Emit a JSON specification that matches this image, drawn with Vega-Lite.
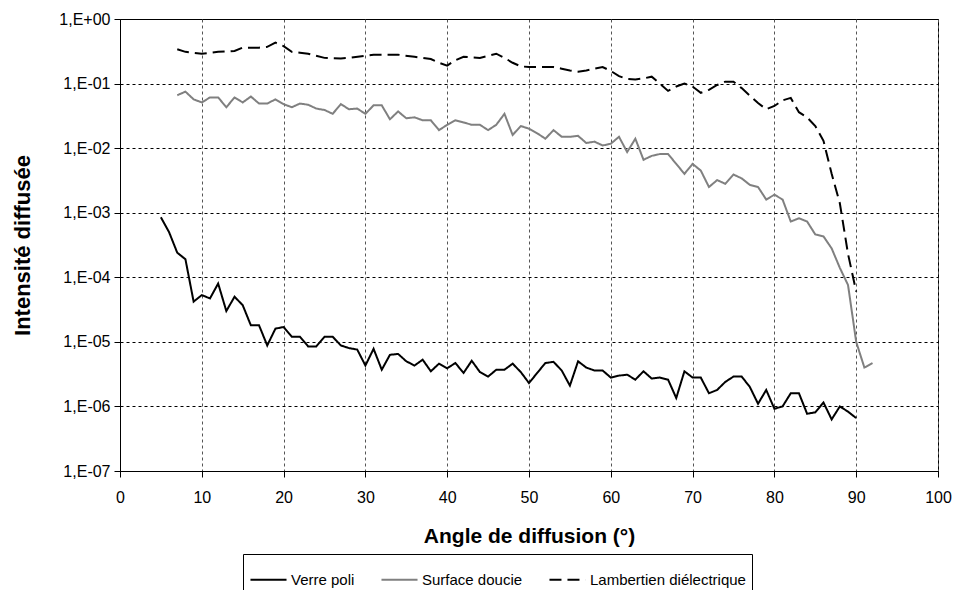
{
  "$schema": "https://vega.github.io/schema/vega-lite/v6.json",
  "width": 818,
  "height": 452,
  "autosize": {"type": "none"},
  "padding": {"left": 120, "top": 19, "right": 17, "bottom": 119},
  "background": "white",
  "config": {
    "font": "Liberation Sans",
    "view": {"stroke": "black", "strokeWidth": 1},
    "axis": {
      "labelFont": "Liberation Sans",
      "titleFont": "Liberation Sans",
      "labelFontSize": 16,
      "labelColor": "black",
      "titleFontSize": 21,
      "titleFontWeight": "bold",
      "titleColor": "black",
      "domainColor": "black",
      "tickColor": "black",
      "tickSize": 6,
      "gridDash": [3, 3],
      "gridOpacity": 1
    }
  },
  "data": {
    "values": [
      {"s": "Verre poli", "a": 5, "v": 8.5e-4},
      {"s": "Verre poli", "a": 6, "v": 5e-4},
      {"s": "Verre poli", "a": 7, "v": 2.4e-4},
      {"s": "Verre poli", "a": 8, "v": 1.9e-4},
      {"s": "Verre poli", "a": 9, "v": 4.2e-5},
      {"s": "Verre poli", "a": 10, "v": 5.3e-5},
      {"s": "Verre poli", "a": 11, "v": 4.7e-5},
      {"s": "Verre poli", "a": 12, "v": 8e-5},
      {"s": "Verre poli", "a": 13, "v": 3e-5},
      {"s": "Verre poli", "a": 14, "v": 5e-5},
      {"s": "Verre poli", "a": 15, "v": 3.7e-5},
      {"s": "Verre poli", "a": 16, "v": 1.8e-5},
      {"s": "Verre poli", "a": 17, "v": 1.8e-5},
      {"s": "Verre poli", "a": 18, "v": 8.8e-6},
      {"s": "Verre poli", "a": 19, "v": 1.6e-5},
      {"s": "Verre poli", "a": 20, "v": 1.7e-5},
      {"s": "Verre poli", "a": 21, "v": 1.2e-5},
      {"s": "Verre poli", "a": 22, "v": 1.2e-5},
      {"s": "Verre poli", "a": 23, "v": 8.5e-6},
      {"s": "Verre poli", "a": 24, "v": 8.5e-6},
      {"s": "Verre poli", "a": 25, "v": 1.2e-5},
      {"s": "Verre poli", "a": 26, "v": 1.2e-5},
      {"s": "Verre poli", "a": 27, "v": 8.8e-6},
      {"s": "Verre poli", "a": 28, "v": 8e-6},
      {"s": "Verre poli", "a": 29, "v": 7.6e-6},
      {"s": "Verre poli", "a": 30, "v": 4.3e-6},
      {"s": "Verre poli", "a": 31, "v": 7.8e-6},
      {"s": "Verre poli", "a": 32, "v": 3.7e-6},
      {"s": "Verre poli", "a": 33, "v": 6.3e-6},
      {"s": "Verre poli", "a": 34, "v": 6.5e-6},
      {"s": "Verre poli", "a": 35, "v": 5e-6},
      {"s": "Verre poli", "a": 36, "v": 4.3e-6},
      {"s": "Verre poli", "a": 37, "v": 5.3e-6},
      {"s": "Verre poli", "a": 38, "v": 3.5e-6},
      {"s": "Verre poli", "a": 39, "v": 4.6e-6},
      {"s": "Verre poli", "a": 40, "v": 3.9e-6},
      {"s": "Verre poli", "a": 41, "v": 4.7e-6},
      {"s": "Verre poli", "a": 42, "v": 3.3e-6},
      {"s": "Verre poli", "a": 43, "v": 5.1e-6},
      {"s": "Verre poli", "a": 44, "v": 3.4e-6},
      {"s": "Verre poli", "a": 45, "v": 2.9e-6},
      {"s": "Verre poli", "a": 46, "v": 3.7e-6},
      {"s": "Verre poli", "a": 47, "v": 3.7e-6},
      {"s": "Verre poli", "a": 48, "v": 4.6e-6},
      {"s": "Verre poli", "a": 49, "v": 3.4e-6},
      {"s": "Verre poli", "a": 50, "v": 2.3e-6},
      {"s": "Verre poli", "a": 51, "v": 3.3e-6},
      {"s": "Verre poli", "a": 52, "v": 4.7e-6},
      {"s": "Verre poli", "a": 53, "v": 4.9e-6},
      {"s": "Verre poli", "a": 54, "v": 3.6e-6},
      {"s": "Verre poli", "a": 55, "v": 2.1e-6},
      {"s": "Verre poli", "a": 56, "v": 5e-6},
      {"s": "Verre poli", "a": 57, "v": 4e-6},
      {"s": "Verre poli", "a": 58, "v": 3.6e-6},
      {"s": "Verre poli", "a": 59, "v": 3.6e-6},
      {"s": "Verre poli", "a": 60, "v": 2.8e-6},
      {"s": "Verre poli", "a": 61, "v": 3e-6},
      {"s": "Verre poli", "a": 62, "v": 3.1e-6},
      {"s": "Verre poli", "a": 63, "v": 2.6e-6},
      {"s": "Verre poli", "a": 64, "v": 3.5e-6},
      {"s": "Verre poli", "a": 65, "v": 2.7e-6},
      {"s": "Verre poli", "a": 66, "v": 2.8e-6},
      {"s": "Verre poli", "a": 67, "v": 2.6e-6},
      {"s": "Verre poli", "a": 68, "v": 1.35e-6},
      {"s": "Verre poli", "a": 69, "v": 3.5e-6},
      {"s": "Verre poli", "a": 70, "v": 2.8e-6},
      {"s": "Verre poli", "a": 71, "v": 2.8e-6},
      {"s": "Verre poli", "a": 72, "v": 1.6e-6},
      {"s": "Verre poli", "a": 73, "v": 1.8e-6},
      {"s": "Verre poli", "a": 74, "v": 2.4e-6},
      {"s": "Verre poli", "a": 75, "v": 2.9e-6},
      {"s": "Verre poli", "a": 76, "v": 2.9e-6},
      {"s": "Verre poli", "a": 77, "v": 2e-6},
      {"s": "Verre poli", "a": 78, "v": 1.1e-6},
      {"s": "Verre poli", "a": 79, "v": 1.8e-6},
      {"s": "Verre poli", "a": 80, "v": 9.2e-7},
      {"s": "Verre poli", "a": 81, "v": 1e-6},
      {"s": "Verre poli", "a": 82, "v": 1.6e-6},
      {"s": "Verre poli", "a": 83, "v": 1.6e-6},
      {"s": "Verre poli", "a": 84, "v": 7.7e-7},
      {"s": "Verre poli", "a": 85, "v": 8.1e-7},
      {"s": "Verre poli", "a": 86, "v": 1.15e-6},
      {"s": "Verre poli", "a": 87, "v": 6.3e-7},
      {"s": "Verre poli", "a": 88, "v": 1e-6},
      {"s": "Verre poli", "a": 89, "v": 8.3e-7},
      {"s": "Verre poli", "a": 90, "v": 6.6e-7},

      {"s": "Surface doucie", "a": 7, "v": 0.066},
      {"s": "Surface doucie", "a": 8, "v": 0.075},
      {"s": "Surface doucie", "a": 9, "v": 0.057},
      {"s": "Surface doucie", "a": 10, "v": 0.051},
      {"s": "Surface doucie", "a": 11, "v": 0.061},
      {"s": "Surface doucie", "a": 12, "v": 0.061},
      {"s": "Surface doucie", "a": 13, "v": 0.043},
      {"s": "Surface doucie", "a": 14, "v": 0.061},
      {"s": "Surface doucie", "a": 15, "v": 0.051},
      {"s": "Surface doucie", "a": 16, "v": 0.063},
      {"s": "Surface doucie", "a": 17, "v": 0.049},
      {"s": "Surface doucie", "a": 18, "v": 0.049},
      {"s": "Surface doucie", "a": 19, "v": 0.057},
      {"s": "Surface doucie", "a": 20, "v": 0.048},
      {"s": "Surface doucie", "a": 21, "v": 0.043},
      {"s": "Surface doucie", "a": 22, "v": 0.049},
      {"s": "Surface doucie", "a": 23, "v": 0.047},
      {"s": "Surface doucie", "a": 24, "v": 0.041},
      {"s": "Surface doucie", "a": 25, "v": 0.039},
      {"s": "Surface doucie", "a": 26, "v": 0.034},
      {"s": "Surface doucie", "a": 27, "v": 0.048},
      {"s": "Surface doucie", "a": 28, "v": 0.040},
      {"s": "Surface doucie", "a": 29, "v": 0.041},
      {"s": "Surface doucie", "a": 30, "v": 0.034},
      {"s": "Surface doucie", "a": 31, "v": 0.046},
      {"s": "Surface doucie", "a": 32, "v": 0.046},
      {"s": "Surface doucie", "a": 33, "v": 0.028},
      {"s": "Surface doucie", "a": 34, "v": 0.037},
      {"s": "Surface doucie", "a": 35, "v": 0.029},
      {"s": "Surface doucie", "a": 36, "v": 0.030},
      {"s": "Surface doucie", "a": 37, "v": 0.027},
      {"s": "Surface doucie", "a": 38, "v": 0.027},
      {"s": "Surface doucie", "a": 39, "v": 0.019},
      {"s": "Surface doucie", "a": 40, "v": 0.023},
      {"s": "Surface doucie", "a": 41, "v": 0.027},
      {"s": "Surface doucie", "a": 42, "v": 0.025},
      {"s": "Surface doucie", "a": 43, "v": 0.023},
      {"s": "Surface doucie", "a": 44, "v": 0.023},
      {"s": "Surface doucie", "a": 45, "v": 0.019},
      {"s": "Surface doucie", "a": 46, "v": 0.023},
      {"s": "Surface doucie", "a": 47, "v": 0.034},
      {"s": "Surface doucie", "a": 48, "v": 0.016},
      {"s": "Surface doucie", "a": 49, "v": 0.022},
      {"s": "Surface doucie", "a": 50, "v": 0.020},
      {"s": "Surface doucie", "a": 51, "v": 0.017},
      {"s": "Surface doucie", "a": 52, "v": 0.014},
      {"s": "Surface doucie", "a": 53, "v": 0.019},
      {"s": "Surface doucie", "a": 54, "v": 0.015},
      {"s": "Surface doucie", "a": 55, "v": 0.015},
      {"s": "Surface doucie", "a": 56, "v": 0.0155},
      {"s": "Surface doucie", "a": 57, "v": 0.012},
      {"s": "Surface doucie", "a": 58, "v": 0.0126},
      {"s": "Surface doucie", "a": 59, "v": 0.011},
      {"s": "Surface doucie", "a": 60, "v": 0.0117},
      {"s": "Surface doucie", "a": 61, "v": 0.015},
      {"s": "Surface doucie", "a": 62, "v": 0.0087},
      {"s": "Surface doucie", "a": 63, "v": 0.014},
      {"s": "Surface doucie", "a": 64, "v": 0.0066},
      {"s": "Surface doucie", "a": 65, "v": 0.0076},
      {"s": "Surface doucie", "a": 66, "v": 0.0081},
      {"s": "Surface doucie", "a": 67, "v": 0.0081},
      {"s": "Surface doucie", "a": 68, "v": 0.0057},
      {"s": "Surface doucie", "a": 69, "v": 0.0040},
      {"s": "Surface doucie", "a": 70, "v": 0.0057},
      {"s": "Surface doucie", "a": 71, "v": 0.0045},
      {"s": "Surface doucie", "a": 72, "v": 0.0025},
      {"s": "Surface doucie", "a": 73, "v": 0.0032},
      {"s": "Surface doucie", "a": 74, "v": 0.0028},
      {"s": "Surface doucie", "a": 75, "v": 0.0039},
      {"s": "Surface doucie", "a": 76, "v": 0.0034},
      {"s": "Surface doucie", "a": 77, "v": 0.0027},
      {"s": "Surface doucie", "a": 78, "v": 0.0025},
      {"s": "Surface doucie", "a": 79, "v": 0.0016},
      {"s": "Surface doucie", "a": 80, "v": 0.0019},
      {"s": "Surface doucie", "a": 81, "v": 0.0016},
      {"s": "Surface doucie", "a": 82, "v": 7.3e-4},
      {"s": "Surface doucie", "a": 83, "v": 8.2e-4},
      {"s": "Surface doucie", "a": 84, "v": 7.3e-4},
      {"s": "Surface doucie", "a": 85, "v": 4.6e-4},
      {"s": "Surface doucie", "a": 86, "v": 4.3e-4},
      {"s": "Surface doucie", "a": 87, "v": 2.8e-4},
      {"s": "Surface doucie", "a": 88, "v": 1.4e-4},
      {"s": "Surface doucie", "a": 89, "v": 7.6e-5},
      {"s": "Surface doucie", "a": 90, "v": 1.0e-5},
      {"s": "Surface doucie", "a": 91, "v": 4e-6},
      {"s": "Surface doucie", "a": 92, "v": 4.7e-6},

      {"s": "Lambertien diélectrique", "a": 7, "v": 0.34},
      {"s": "Lambertien diélectrique", "a": 8, "v": 0.31},
      {"s": "Lambertien diélectrique", "a": 10, "v": 0.29},
      {"s": "Lambertien diélectrique", "a": 12, "v": 0.31},
      {"s": "Lambertien diélectrique", "a": 14, "v": 0.32},
      {"s": "Lambertien diélectrique", "a": 15, "v": 0.36},
      {"s": "Lambertien diélectrique", "a": 17, "v": 0.36},
      {"s": "Lambertien diélectrique", "a": 18, "v": 0.37},
      {"s": "Lambertien diélectrique", "a": 19, "v": 0.43},
      {"s": "Lambertien diélectrique", "a": 20, "v": 0.38},
      {"s": "Lambertien diélectrique", "a": 21, "v": 0.31},
      {"s": "Lambertien diélectrique", "a": 22, "v": 0.30},
      {"s": "Lambertien diélectrique", "a": 23, "v": 0.29},
      {"s": "Lambertien diélectrique", "a": 25, "v": 0.25},
      {"s": "Lambertien diélectrique", "a": 27, "v": 0.245},
      {"s": "Lambertien diélectrique", "a": 28, "v": 0.25},
      {"s": "Lambertien diélectrique", "a": 30, "v": 0.27},
      {"s": "Lambertien diélectrique", "a": 31, "v": 0.28},
      {"s": "Lambertien diélectrique", "a": 34, "v": 0.28},
      {"s": "Lambertien diélectrique", "a": 36, "v": 0.26},
      {"s": "Lambertien diélectrique", "a": 37, "v": 0.25},
      {"s": "Lambertien diélectrique", "a": 38, "v": 0.24},
      {"s": "Lambertien diélectrique", "a": 39, "v": 0.21},
      {"s": "Lambertien diélectrique", "a": 40, "v": 0.19},
      {"s": "Lambertien diélectrique", "a": 41, "v": 0.23},
      {"s": "Lambertien diélectrique", "a": 42, "v": 0.26},
      {"s": "Lambertien diélectrique", "a": 44, "v": 0.25},
      {"s": "Lambertien diélectrique", "a": 46, "v": 0.29},
      {"s": "Lambertien diélectrique", "a": 47, "v": 0.25},
      {"s": "Lambertien diélectrique", "a": 48, "v": 0.21},
      {"s": "Lambertien diélectrique", "a": 49, "v": 0.185},
      {"s": "Lambertien diélectrique", "a": 50, "v": 0.18},
      {"s": "Lambertien diélectrique", "a": 53, "v": 0.18},
      {"s": "Lambertien diélectrique", "a": 54, "v": 0.17},
      {"s": "Lambertien diélectrique", "a": 55, "v": 0.16},
      {"s": "Lambertien diélectrique", "a": 56, "v": 0.153},
      {"s": "Lambertien diélectrique", "a": 57, "v": 0.16},
      {"s": "Lambertien diélectrique", "a": 58, "v": 0.17},
      {"s": "Lambertien diélectrique", "a": 59, "v": 0.18},
      {"s": "Lambertien diélectrique", "a": 60, "v": 0.157},
      {"s": "Lambertien diélectrique", "a": 61, "v": 0.13},
      {"s": "Lambertien diélectrique", "a": 62, "v": 0.118},
      {"s": "Lambertien diélectrique", "a": 63, "v": 0.116},
      {"s": "Lambertien diélectrique", "a": 64, "v": 0.12},
      {"s": "Lambertien diélectrique", "a": 65, "v": 0.128},
      {"s": "Lambertien diélectrique", "a": 66, "v": 0.1},
      {"s": "Lambertien diélectrique", "a": 67, "v": 0.077},
      {"s": "Lambertien diélectrique", "a": 68, "v": 0.09},
      {"s": "Lambertien diélectrique", "a": 69, "v": 0.1},
      {"s": "Lambertien diélectrique", "a": 70, "v": 0.09},
      {"s": "Lambertien diélectrique", "a": 71, "v": 0.072},
      {"s": "Lambertien diélectrique", "a": 72, "v": 0.08},
      {"s": "Lambertien diélectrique", "a": 73, "v": 0.095},
      {"s": "Lambertien diélectrique", "a": 74, "v": 0.107},
      {"s": "Lambertien diélectrique", "a": 75, "v": 0.107},
      {"s": "Lambertien diélectrique", "a": 76, "v": 0.085},
      {"s": "Lambertien diélectrique", "a": 77, "v": 0.065},
      {"s": "Lambertien diélectrique", "a": 78, "v": 0.05},
      {"s": "Lambertien diélectrique", "a": 79, "v": 0.04},
      {"s": "Lambertien diélectrique", "a": 80, "v": 0.045},
      {"s": "Lambertien diélectrique", "a": 81, "v": 0.055},
      {"s": "Lambertien diélectrique", "a": 82, "v": 0.06},
      {"s": "Lambertien diélectrique", "a": 83, "v": 0.036},
      {"s": "Lambertien diélectrique", "a": 84, "v": 0.03},
      {"s": "Lambertien diélectrique", "a": 85, "v": 0.022},
      {"s": "Lambertien diélectrique", "a": 86, "v": 0.013},
      {"s": "Lambertien diélectrique", "a": 87, "v": 0.004},
      {"s": "Lambertien diélectrique", "a": 88, "v": 0.0014},
      {"s": "Lambertien diélectrique", "a": 89, "v": 0.00023},
      {"s": "Lambertien diélectrique", "a": 90, "v": 0.00006}
    ]
  },
  "mark": {"type": "line", "strokeWidth": 2, "clip": false},
  "encoding": {
    "x": {
      "field": "a",
      "type": "quantitative",
      "title": "Angle de diffusion (°)",
      "scale": {"domain": [0, 100], "nice": false},
      "axis": {
        "values": [0, 10, 20, 30, 40, 50, 60, 70, 80, 90, 100],
        "grid": true,
        "gridColor": "#555555",
        "labelPadding": 12,
        "titlePadding": 20,
        "labelFlush": false
      }
    },
    "y": {
      "field": "v",
      "type": "quantitative",
      "title": "Intensité diffusée",
      "scale": {"type": "log", "domain": [1e-7, 1], "nice": false},
      "axis": {
        "values": [1e-7, 1e-6, 1e-5, 1e-4, 1e-3, 1e-2, 1e-1, 1],
        "grid": true,
        "gridColor": "black",
        "labelPadding": 4,
        "titlePadding": 24,
        "titleFontSize": 22,
        "labelFlush": false,
        "labelExpr": "'1,E' + (datum.value >= 1 ? '+' : '-') + '0' + abs(round(log(datum.value) / LN10))"
      }
    },
    "color": {
      "field": "s",
      "type": "nominal",
      "title": null,
      "sort": ["Verre poli", "Surface doucie", "Lambertien diélectrique"],
      "scale": {
        "domain": ["Verre poli", "Surface doucie", "Lambertien diélectrique"],
        "range": ["#000000", "#808080", "#000000"]
      },
      "legend": {
        "orient": "none",
        "legendX": 123,
        "legendY": 535,
        "direction": "horizontal",
        "symbolType": "stroke",
        "symbolSize": 1300,
        "symbolStrokeWidth": 2,
        "labelFont": "Liberation Sans",
        "labelFontSize": 15,
        "labelColor": "black",
        "labelOffset": 3,
        "strokeColor": "black",
        "fillColor": "white",
        "padding": 6,
        "columnPadding": 22
      }
    },
    "strokeDash": {
      "field": "s",
      "type": "nominal",
      "title": null,
      "sort": ["Verre poli", "Surface doucie", "Lambertien diélectrique"],
      "scale": {
        "domain": ["Verre poli", "Surface doucie", "Lambertien diélectrique"],
        "range": [[1, 0], [1, 0], [12, 6]]
      }
    }
  }
}
